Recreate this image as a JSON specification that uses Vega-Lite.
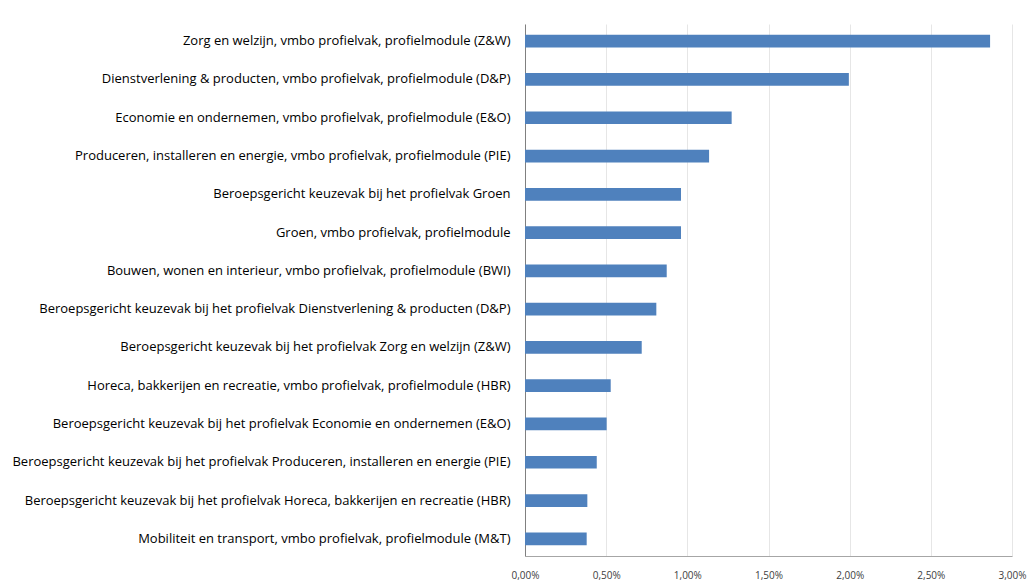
{
  "$schema": "https://vega.github.io/schema/vega-lite/v6.json",
  "width": 487,
  "height": 532,
  "autosize": "none",
  "padding": {"left": 525, "top": 24, "right": 21, "bottom": 31},
  "background": "white",
  "data": {
    "values": [
      {"label": "Zorg en welzijn, vmbo profielvak, profielmodule (Z&W)", "pct": 2.865},
      {"label": "Dienstverlening & producten, vmbo profielvak, profielmodule (D&P)", "pct": 1.995},
      {"label": "Economie en ondernemen, vmbo profielvak, profielmodule (E&O)", "pct": 1.273},
      {"label": "Produceren, installeren en energie, vmbo profielvak, profielmodule (PIE)", "pct": 1.134},
      {"label": "Beroepsgericht keuzevak bij het profielvak Groen", "pct": 0.961},
      {"label": "Groen, vmbo profielvak, profielmodule", "pct": 0.961},
      {"label": "Bouwen, wonen en interieur, vmbo profielvak, profielmodule (BWI)", "pct": 0.873},
      {"label": "Beroepsgericht keuzevak bij het profielvak Dienstverlening & producten (D&P)", "pct": 0.809},
      {"label": "Beroepsgericht keuzevak bij het profielvak Zorg en welzijn (Z&W)", "pct": 0.719},
      {"label": "Horeca, bakkerijen en recreatie, vmbo profielvak, profielmodule (HBR)", "pct": 0.528},
      {"label": "Beroepsgericht keuzevak bij het profielvak Economie en ondernemen (E&O)", "pct": 0.503},
      {"label": "Beroepsgericht keuzevak bij het profielvak Produceren, installeren en energie (PIE)", "pct": 0.442},
      {"label": "Beroepsgericht keuzevak bij het profielvak Horeca, bakkerijen en recreatie (HBR)", "pct": 0.384},
      {"label": "Mobiliteit en transport, vmbo profielvak, profielmodule (M&T)", "pct": 0.380}
    ]
  },
  "mark": {"type": "bar", "color": "#4F81BD"},
  "encoding": {
    "y": {
      "field": "label",
      "type": "nominal",
      "sort": null,
      "scale": {"paddingInner": 0.668, "paddingOuter": 0.283},
      "axis": {
        "title": null,
        "ticks": false,
        "domainColor": "#808080",
        "labelFont": "Open Sans",
        "labelFontSize": 13,
        "labelColor": "#000000",
        "labelLimit": 520,
        "labelPadding": 15
      }
    },
    "x": {
      "field": "pct",
      "type": "quantitative",
      "scale": {"domain": [0, 3], "nice": false},
      "axis": {
        "title": null,
        "values": [0, 0.5, 1, 1.5, 2, 2.5, 3],
        "labelExpr": "replace(format(datum.value, '.2f'), '.', ',') + '%'",
        "ticks": false,
        "domainColor": "#A6A6A6",
        "gridColor": "#E6E6E6",
        "labelFont": "Open Sans",
        "labelFontSize": 10,
        "labelColor": "#404040",
        "labelPadding": 14,
        "labelFlush": false
      }
    }
  },
  "config": {"view": {"stroke": null}}
}
